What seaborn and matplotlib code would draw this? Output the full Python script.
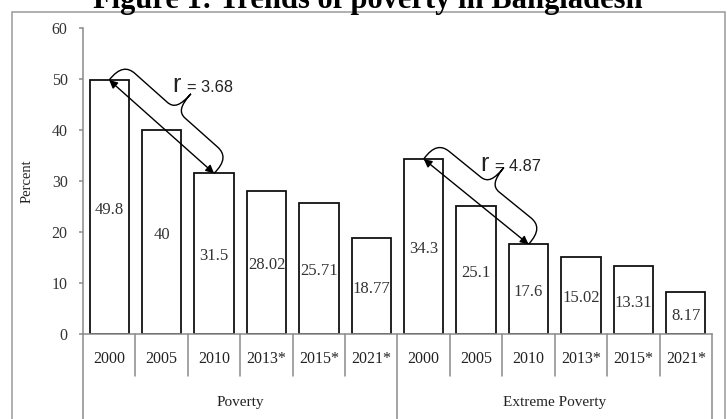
import numpy as np
import pandas as pd
import matplotlib
matplotlib.use("Agg")
import matplotlib.pyplot as plt
import seaborn as sns
from matplotlib.transforms import blended_transform_factory, IdentityTransform
from matplotlib.path import Path
from matplotlib.patches import PathPatch, Rectangle

# ---------------- data ----------------
groups = ["Poverty", "Extreme Poverty"]
years = ["2000", "2005", "2010", "2013*", "2015*", "2021*"]
poverty = [49.8, 40, 31.5, 28.02, 25.71, 18.77]
extreme = [34.3, 25.1, 17.6, 15.02, 13.31, 8.17]
poverty_labels = ["49.8", "40", "31.5", "28.02", "25.71", "18.77"]
extreme_labels = ["34.3", "25.1", "17.6", "15.02", "13.31", "8.17"]
y_ticks = [0, 10, 20, 30, 40, 50, 60]
r_values = ["3.68", "4.87"]
title = "Figure 1: Trends of poverty in Bangladesh"

sns.set_theme(style="white")
plt.rcParams["font.family"] = ["Liberation Serif", "DejaVu Serif"]

W, H = 727, 419
fig = plt.figure(figsize=(W / 100, H / 100), dpi=100)
AX_L, AX_R, AX_T, AX_B = 83, 712, 28, 334
ax = fig.add_axes([AX_L / W, 1 - AX_B / H, (AX_R - AX_L) / W, (AX_B - AX_T) / H])

df = pd.DataFrame({
    "group": [g for g in groups for _ in years],
    "year": years * 2,
    "value": poverty + extreme,
    "label": poverty_labels + extreme_labels,
})
df["key"] = df["group"] + " " + df["year"]

sns.barplot(data=df, x="key", y="value", order=list(df["key"]), color="white",
            saturation=1, edgecolor="#111111", linewidth=1.3, width=0.75,
            errorbar=None, ax=ax)

ax.set_xlim(-0.5, len(df) - 0.5)
ax.set_ylim(0, 60)
ax.set_xlabel("")
ax.set_ylabel("")
ax.set_xticks([])
ax.set_yticks(y_ticks)
gray = "#8a8a8a"
for s in ["top", "right"]:
    ax.spines[s].set_visible(False)
for s in ["left", "bottom"]:
    ax.spines[s].set_color(gray)
    ax.spines[s].set_linewidth(1.1)
ax.tick_params(axis="y", length=3, width=1.1, color=gray, labelsize=11.5,
               labelcolor="#333333", pad=8, left=True)
ax.grid(False)

# value labels (inside the bars, around mid-height)
for i, (v, lab) in enumerate(zip(df["value"], df["label"])):
    ax.annotate(lab, xy=(i, v / 2), xytext=(0, -2), textcoords="offset points",
                ha="center", va="center", fontsize=12, color="#333333")

# category table below axis
trans = blended_transform_factory(ax.transData, fig.transFigure)
n = len(df)
for k in range(1, n):
    b = k - 0.5
    if k == len(years):
        continue
    ax.plot([b, b], [1 - AX_B / H, 1 - 376 / H], transform=trans, color=gray,
            lw=1.1, clip_on=False)
for b in [-0.5, len(years) - 0.5, n - 0.5]:
    ax.plot([b, b], [1 - AX_B / H, -0.01], transform=trans, color=gray,
            lw=1.1, clip_on=False)
for i, yr in enumerate(df["year"]):
    ax.text(i, 1 - 359 / H, yr, transform=trans, ha="center", va="center",
            fontsize=11.5, color="#222222")
for gi, g in enumerate(groups):
    cx = gi * len(years) + (len(years) - 1) / 2
    ax.text(cx, 1 - 402 / H, g, transform=trans, ha="center", va="center",
            fontsize=11, color="#222222")

# outer frame
fig.add_artist(Rectangle((12 / W, -0.05), (725 - 12) / W, (1 - 12 / H) + 0.05,
                         transform=fig.transFigure, fill=False,
                         edgecolor="#9a9a9a", lw=1.1))

fig.text(27 / W, 1 - 181 / H, "Percent", rotation=90, ha="center", va="center",
         fontsize=10.5, color="#222222")
fig.text(368 / W, 1 - 8 / H, title, ha="center", va="baseline", fontsize=22,
         fontweight="bold", color="black")


def brace_with_arrow(i0, v0, i1, v1, rtext, r_pos, eq_pos, h=22):
    ax.annotate("", xy=(i1, v1), xytext=(i0, v0),
                arrowprops=dict(arrowstyle="<|-|>", color="black", lw=1.0,
                                mutation_scale=12, shrinkA=0, shrinkB=0))
    p0 = ax.transData.transform((i0, v0))
    p1 = ax.transData.transform((i1, v1))
    d = p1 - p0
    L = np.hypot(*d)
    d = d / L
    nv = np.array([-d[1], d[0]])
    m = L / 2
    local = [
        (0, 0), (-1, 0.75 * h), (5, h), (15, h),
        (m - 12, h),
        (m - 3, h), (m, 1.3 * h), (m, 2 * h),
        (m, 1.3 * h), (m + 3, h), (m + 12, h),
        (L - 15, h),
        (L - 5, h), (L + 1, 0.75 * h), (L, 0),
    ]
    codes = [Path.MOVETO, Path.CURVE4, Path.CURVE4, Path.CURVE4,
             Path.LINETO,
             Path.CURVE4, Path.CURVE4, Path.CURVE4,
             Path.CURVE4, Path.CURVE4, Path.CURVE4,
             Path.LINETO,
             Path.CURVE4, Path.CURVE4, Path.CURVE4]
    pts = [p0 + u * d + v * nv for u, v in local]
    fig.add_artist(PathPatch(Path(pts, codes), transform=IdentityTransform(),
                             fill=False, edgecolor="black", lw=1.0))
    ax.text(r_pos[0], r_pos[1], "r", ha="left", va="baseline", fontsize=18,
            family="Liberation Sans", color="#222222")
    ax.text(eq_pos[0], eq_pos[1], "= " + rtext, ha="left", va="baseline",
            fontsize=11.8, family="Liberation Sans", color="#222222")


brace_with_arrow(0, poverty[0], 2, poverty[2], r_values[0],
                 r_pos=(1.2, 47.4), eq_pos=(1.48, 47.4))
brace_with_arrow(len(years), extreme[0], len(years) + 2, extreme[2], r_values[1],
                 r_pos=(7.08, 32.0), eq_pos=(7.36, 32.0))

fig.savefig("out.png", dpi=100)
